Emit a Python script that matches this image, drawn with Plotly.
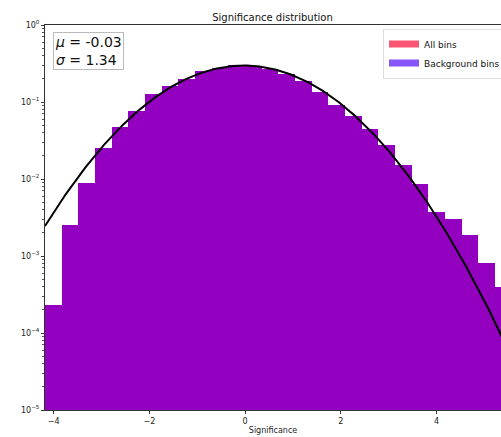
import numpy as np
import plotly.graph_objects as go

# ---- data ----
bin_edges = [-4.182, -3.834, -3.486, -3.137, -2.789, -2.441, -2.093, -1.745, -1.396,
             -1.048, -0.700, -0.352, -0.004, 0.345, 0.693, 1.041, 1.389, 1.737,
             2.086, 2.434, 2.782, 3.130, 3.478, 3.827, 4.175, 4.523, 4.871, 5.219, 5.568]
density = [2.30e-4, 2.51e-3, 8.9e-3, 0.0249, 0.0471, 0.0753, 0.126, 0.160, 0.200,
           0.256, 0.280, 0.298, 0.294, 0.270, 0.230, 0.186, 0.135, 0.091,
           0.0654, 0.044, 0.028, 0.0150, 0.00867, 0.00371, 0.00298, 0.00186,
           0.00080, 0.00040]
fit_mu = -0.03
fit_sigma = 1.34
x_range = [-4.182, 5.345]
y_tick_exps = [0, -1, -2, -3, -4, -5]
x_ticks = [-4, -2, 0, 2, 4]

# ---- derived ----
edges = np.array(bin_edges)
centers = (edges[:-1] + edges[1:]) / 2
widths = np.diff(edges)

xf = np.linspace(x_range[0], x_range[1] + 0.3, 400)
yf = np.exp(-0.5 * ((xf - fit_mu) / fit_sigma) ** 2) / (np.sqrt(2 * np.pi) * fit_sigma)

FONT = "DejaVu Sans"
fig = go.Figure()

# legend entries (overlaid histograms of identical content)
fig.add_trace(go.Scatter(x=[None], y=[None], mode="lines", name="All bins",
                         line=dict(color="rgb(250,85,115)", width=7)))
fig.add_trace(go.Scatter(x=[None], y=[None], mode="lines", name="Background bins",
                         line=dict(color="rgb(135,85,250)", width=7)))

# combined fill of the two overlaid histograms
fig.add_trace(go.Bar(x=centers, y=density, width=widths, showlegend=False,
                     marker=dict(color="rgb(148,0,192)", line=dict(width=0))))

fig.add_trace(go.Scatter(x=xf, y=yf, mode="lines", showlegend=False,
                         line=dict(color="black", width=2)))

fig.add_annotation(xref="paper", yref="paper", x=(53 - 45) / 456, y=(410.5 - 33) / 385,
                   xanchor="left", yanchor="top", align="left",
                   text="<i>μ</i> = -0.03<br><i>σ</i> = 1.34",
                   font=dict(family=FONT, size=14, color="#111"),
                   showarrow=False, bordercolor="#bbb", borderwidth=1,
                   borderpad=1, bgcolor="white")

fig.update_layout(
    width=501, height=437,
    margin=dict(l=45, r=0, t=25, b=27, autoexpand=False),
    paper_bgcolor="white", plot_bgcolor="white",
    bargap=0,
    title=dict(text="Significance distribution", x=(45 + 500) / 2 / 501, xanchor="center",
               y=1 - 17 / 437, yanchor="middle",
               font=dict(family=FONT, size=10, color="#111")),
    legend=dict(x=(383 - 45) / 456, y=(410.5 - 29) / 385, xanchor="left", yanchor="top",
                bgcolor="white", bordercolor="#ddd", borderwidth=1,
                font=dict(family=FONT, size=9, color="#111"),
                itemwidth=30, tracegroupgap=0),
    font=dict(family=FONT),
)

fig.update_xaxes(range=x_range, showgrid=False, zeroline=False,
                 showline=True, linecolor="#333", linewidth=1, mirror=True,
                 ticks="outside", ticklen=3, tickcolor="#333",
                 tickvals=x_ticks, ticktext=[("−" + str(-t)) if t < 0 else str(t) for t in x_ticks],
                 tickfont=dict(family=FONT, size=8, color="#222"),
                 title=dict(text="Significance", font=dict(family=FONT, size=8, color="#222"),
                            standoff=2))

fig.update_yaxes(type="log", range=[-5, 0], showgrid=False, zeroline=False,
                 showline=True, linecolor="#333", linewidth=1,
                 ticks="outside", ticklen=3, tickcolor="#333",
                 tickvals=[10.0 ** e for e in y_tick_exps],
                 ticktext=["10<sup>%s</sup>" % (("−" + str(-e)) if e < 0 else str(e)) for e in y_tick_exps],
                 tickfont=dict(family=FONT, size=8, color="#222"),
                 minor=dict(ticks="outside", ticklen=2, tickcolor="#555", dtick="D1"))

fig.write_html("out.html")
